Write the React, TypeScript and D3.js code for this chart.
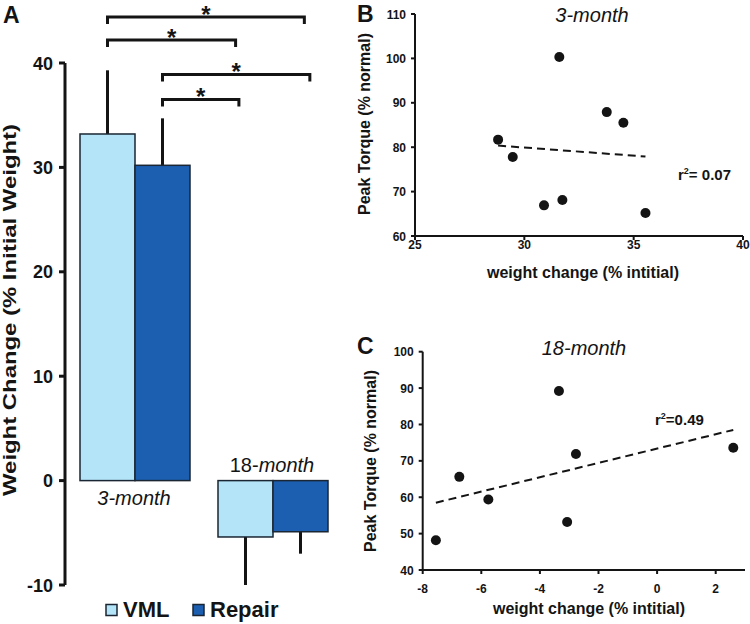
import React from "react";
import * as d3 from "d3";

// ---------- Panel A data ----------
const groups = ["3-month", "18-month"];
const series = ["VML", "Repair"];
const meanVML = [33.2, -5.4];
const meanRepair = [30.2, -4.9];
const errVML = [6.1, 4.6];
const errRepair = [4.5, 2.1];
const yTicksA = [-10, 0, 10, 20, 30, 40];

// significance brackets: from/to bar (group index, series index), height in data units, end position within bar
const brackets = [
  { from: [0, 0], to: [1, 1], h: 44.4, toFrac: 0.57 },
  { from: [0, 0], to: [1, 0], h: 42.2, toFrac: 0.32 },
  { from: [0, 1], to: [1, 1], h: 38.9, toFrac: 0.67 },
  { from: [0, 1], to: [1, 0], h: 36.5, toFrac: 0.38 },
];

// ---------- Panel B data (3-month) ----------
const bX = [28.8, 29.47, 31.6, 30.9, 31.74, 33.77, 34.53, 35.54];
const bY = [81.7, 77.8, 100.3, 66.9, 68.1, 87.9, 85.5, 65.2];
const bXTicks = [25, 30, 35, 40];
const bYTicks = [60, 70, 80, 90, 100, 110];

// ---------- Panel C data (18-month) ----------
const cX = [-7.55, -6.75, -5.76, -3.35, -3.07, -2.77, 2.6];
const cY = [48.2, 65.6, 59.4, 89.2, 53.2, 71.9, 73.6];
const cXTicks = [-8, -6, -4, -2, 0, 2];
const cYTicks = [40, 50, 60, 70, 80, 90, 100];

const LIGHT = "#b4e4f8";
const DARK = "#1c5eb0";
const INK = "#141414";
const FONT = "'Liberation Sans', Arial, sans-serif";

function fit(xs: number[], ys: number[]) {
  const mx = d3.mean(xs)!;
  const my = d3.mean(ys)!;
  let sxy = 0,
    sxx = 0;
  xs.forEach((x, i) => {
    sxy += (x - mx) * (ys[i] - my);
    sxx += (x - mx) * (x - mx);
  });
  const slope = sxy / sxx;
  const icpt = my - slope * mx;
  const [x0, x1] = d3.extent(xs) as [number, number];
  return [
    [x0, icpt + slope * x0],
    [x1, icpt + slope * x1],
  ];
}

function PanelA() {
  const x = d3.scaleBand<string>().domain(groups).range([80, 328]).paddingInner(28 / 138).paddingOuter(0);
  const xs = d3.scaleBand<string>().domain(series).range([0, x.bandwidth()]);
  const y = d3.scaleLinear().domain([-10, 40]).range([585, 63]);
  const means = [meanVML, meanRepair];
  const errs = [errVML, errRepair];
  const colors = [LIGHT, DARK];
  const barX = (g: number, s: number) => x(groups[g])! + xs(series[s])!;
  const barC = (g: number, s: number) => barX(g, s) + xs.bandwidth() / 2;

  return (
    <g>
      <text x={3} y={23} fontSize={23} fontWeight="bold" fill={INK}>A</text>
      {/* bars */}
      {groups.map((gName, g) =>
        series.map((sName, s) => {
          const v = means[s][g];
          const e = errs[s][g];
          const y0 = y(0);
          const yv = y(v);
          const cx = barC(g, s);
          const yErr = v >= 0 ? y(v + e) : y(v - e);
          return (
            <g key={gName + sName}>
              <line x1={cx} x2={cx} y1={yv} y2={yErr} stroke={INK} strokeWidth={3} />
              <rect
                x={barX(g, s)}
                y={Math.min(y0, yv)}
                width={xs.bandwidth()}
                height={Math.abs(yv - y0)}
                fill={colors[s]}
                stroke="#1a2633"
                strokeWidth={1.5}
              />
            </g>
          );
        })
      )}
      {/* axis */}
      <line x1={65} x2={65} y1={y(-10)} y2={y(40)} stroke={INK} strokeWidth={3} />
      {yTicksA.map((t) => (
        <g key={t}>
          <line x1={59} x2={65} y1={y(t)} y2={y(t)} stroke={INK} strokeWidth={3} />
          <text x={53} y={y(t) + 6.5} textAnchor="end" fontSize={18} fontWeight="bold" fill={INK}>
            {t}
          </text>
        </g>
      ))}
      <text
        transform={`translate(16,${310}) rotate(-90)`}
        textAnchor="middle"
        fontSize={19}
        fontWeight="bold"
        fill={INK}
        textLength={372}
        lengthAdjust="spacingAndGlyphs"
      >
        Weight Change (% Initial Weight)
      </text>
      {/* group labels */}
      <text x={x("3-month")! + x.bandwidth() / 2 - 1} y={505} textAnchor="middle" fontSize={20} fontStyle="italic" fill={INK}>
        3-month
      </text>
      <text x={x("18-month")! + x.bandwidth() / 2 - 1} y={472} textAnchor="middle" fontSize={20} fill={INK}>
        18-<tspan fontStyle="italic">month</tspan>
      </text>
      {/* brackets */}
      {brackets.map((b, i) => {
        const x1 = barC(b.from[0], b.from[1]);
        const x2 = barX(b.to[0], b.to[1]) + xs.bandwidth() * b.toFrac;
        const yy = y(b.h);
        return (
          <g key={i}>
            <path
              d={`M${x1},${yy + 7}V${yy}H${x2}V${yy + 7}`}
              fill="none"
              stroke={INK}
              strokeWidth={3}
            />
            <text
              x={(x1 + x2) / 2}
              y={Math.max(yy - 7 + 12.5, 22)}
              textAnchor="middle"
              fontSize={24}
              fontWeight="bold"
              fill={INK}
            >
              *
            </text>
          </g>
        );
      })}
      {/* legend */}
      {series.map((s, i) => {
        const lx = [106, 193][i];
        return (
          <g key={s}>
            <rect x={lx} y={604.5} width={11} height={11} fill={colors[i]} stroke="#1a2633" strokeWidth={1.5} />
            <text x={lx + 17} y={617} fontSize={22} fontWeight="bold" fill={INK}>
              {s}
            </text>
          </g>
        );
      })}
    </g>
  );
}

function Scatter(props: {
  xs: number[];
  ys: number[];
  xDom: [number, number];
  xRange: [number, number];
  yDom: [number, number];
  yRange: [number, number];
  xTicks: number[];
  yTicks: number[];
  letter: string;
  letterY: number;
  title: string;
  titleX: number;
  titleY: number;
  r2: string;
  r2X: number;
  r2Y: number;
  xLabelY: number;
  xTitleX: number;
  xTitleY: number;
  yTitleX: number;
  yTitleY: number;
}) {
  const x = d3.scaleLinear().domain(props.xDom).range(props.xRange);
  const y = d3.scaleLinear().domain(props.yDom).range(props.yRange);
  const f = fit(props.xs, props.ys);
  const line = d3
    .line<number[]>()
    .x((d) => x(d[0]))
    .y((d) => y(d[1]));
  const ax = props.xRange[0];
  const ay = props.yRange[0];
  return (
    <g>
      <text x={357} y={props.letterY} fontSize={23} fontWeight="bold" fill={INK}>
        {props.letter}
      </text>
      <text x={props.titleX} y={props.titleY} textAnchor="middle" fontSize={20} fontStyle="italic" fill={INK}>
        {props.title}
      </text>
      <line x1={ax} x2={ax} y1={props.yRange[0]} y2={props.yRange[1]} stroke={INK} strokeWidth={2} />
      <line x1={props.xRange[0]} x2={props.xRange[1]} y1={ay} y2={ay} stroke={INK} strokeWidth={2} />
      {props.yTicks.map((t) => (
        <g key={"y" + t}>
          <line x1={ax - 4} x2={ax} y1={y(t)} y2={y(t)} stroke={INK} strokeWidth={2} />
          <text x={ax - 9} y={y(t) + 4.5} textAnchor="end" fontSize={12} fontWeight="bold" fill={INK}>
            {t}
          </text>
        </g>
      ))}
      {props.xTicks.map((t) => (
        <g key={"x" + t}>
          <line x1={x(t)} x2={x(t)} y1={ay} y2={ay + 4} stroke={INK} strokeWidth={2} />
          <text x={x(t)} y={props.xLabelY} textAnchor="middle" fontSize={12} fontWeight="bold" fill={INK}>
            {t}
          </text>
        </g>
      ))}
      <path d={line(f)!} fill="none" stroke={INK} strokeWidth={2} strokeDasharray="8,5" />
      {props.xs.map((v, i) => (
        <circle key={i} cx={x(v)} cy={y(props.ys[i])} r={5} fill={INK} />
      ))}
      <text x={props.r2X} y={props.r2Y} fontSize={15} fontWeight="bold" fill={INK}>
        r<tspan fontSize={9} dy={-6}>2</tspan>
        <tspan dy={6}>{props.r2}</tspan>
      </text>
      <text x={props.xTitleX} y={props.xTitleY} textAnchor="middle" fontSize={16} fontWeight="bold" fill={INK}>
        weight change (% intitial)
      </text>
      <text
        transform={`translate(${props.yTitleX},${props.yTitleY}) rotate(-90)`}
        textAnchor="middle"
        fontSize={16}
        fontWeight="bold"
        fill={INK}
      >
        Peak Torque (% normal)
      </text>
    </g>
  );
}

export default function App() {
  return (
    <svg
      width={750}
      height={624}
      style={{ position: "absolute", left: 0, top: 0, background: "#fff", fontFamily: FONT }}
    >
      <rect width={750} height={624} fill="#fff" />
      <PanelA />
      <Scatter
        xs={bX}
        ys={bY}
        xDom={[25, 40]}
        xRange={[415, 743]}
        yDom={[60, 110]}
        yRange={[236, 14]}
        xTicks={bXTicks}
        yTicks={bYTicks}
        letter="B"
        letterY={22}
        title="3-month"
        titleX={592}
        titleY={22}
        r2="= 0.07"
        r2X={678}
        r2Y={180}
        xLabelY={249}
        xTitleX={583}
        xTitleY={278}
        yTitleX={370}
        yTitleY={124}
      />
      <Scatter
        xs={cX}
        ys={cY}
        xDom={[-8, 3]}
        xRange={[422.7, 745]}
        yDom={[40, 100]}
        yRange={[570, 351.7]}
        xTicks={cXTicks}
        yTicks={cYTicks}
        letter="C"
        letterY={354}
        title="18-month"
        titleX={584}
        titleY={355}
        r2="=0.49"
        r2X={655}
        r2Y={425}
        xLabelY={593}
        xTitleX={589}
        xTitleY={614}
        yTitleX={376}
        yTitleY={461}
      />
    </svg>
  );
}
